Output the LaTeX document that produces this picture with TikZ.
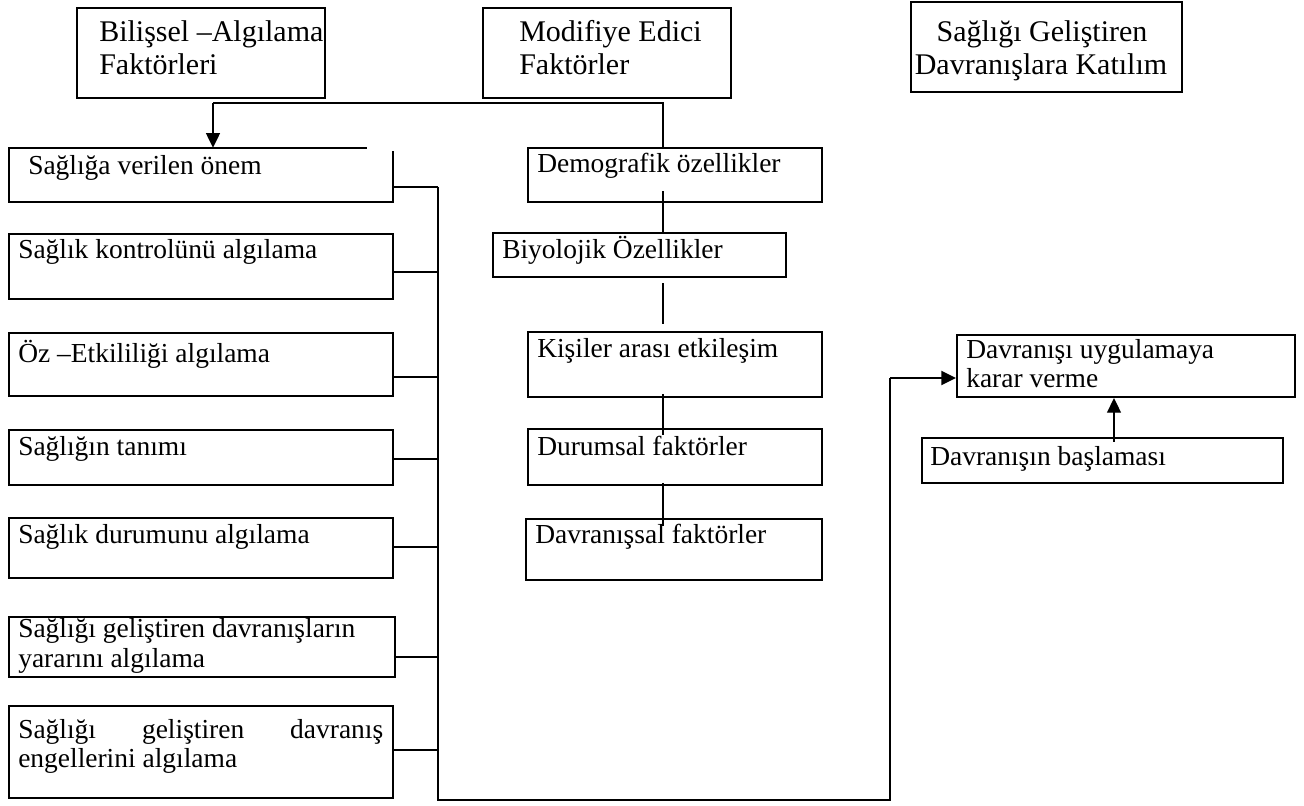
\documentclass[tikz,border=0pt]{standalone}
\usepackage{fontspec}
\setmainfont{Liberation Serif}
\usetikzlibrary{arrows.meta,fit,calc}
\begin{document}
\begin{tikzpicture}[x=0.75pt,y=-0.75pt,
  box/.style={draw, line width=1.6pt, inner sep=0pt},
  nobox/.style={inner sep=0pt},
  conn/.style={line width=1.1pt},
  tip/.style={-{Triangle[length=11pt,width=10.5pt]}},
  lbl/.style={anchor=base west, inner sep=0pt, font=\fontsize{20.6pt}{22.5pt}\selectfont},
  hdr/.style={anchor=base west, inner sep=0pt, font=\fontsize{22.5pt}{24.75pt}\selectfont},
]
\useasboundingbox[fill=white] (0,0) rectangle (1304,806);

% ---- header boxes
\node[box, fit={(77,8) (325,98)}] (ha) {};
\node[hdr] (ha1) at (99,42) {Bilişsel –Algılama};
\node[hdr] (ha2) at (99,75) {Faktörleri};
\node[box, fit={(483,8) (731,98)}] (hb) {};
\node[hdr] (hb1) at (519,42) {Modifiye Edici};
\node[hdr] (hb2) at (519,75) {Faktörler};
\node[box, fit={(911,2) (1182,92)}] (hc) {};
\node[hdr, anchor=base] (hc1) at (1042,42) {Sağlığı Geliştiren};
\node[hdr, anchor=base] (hc2) at (1041,75) {Davranışlara Katılım};

% ---- left column
\node[nobox, fit={(9,148) (393,202)}] (b1) {};
\draw[line width=1.6pt] ($(b1.north west)+(358,0)$) -- (b1.north west) -- (b1.south west) -- (b1.south east) -- ($(b1.north east)+(0,3)$);
\node[lbl] (t1) at (28,175) {Sağlığa verilen önem};
\node[box, fit={(9,234) (393,299)}] (b2) {};
\node[lbl] (t2) at (18,258) {Sağlık kontrolünü algılama};
\node[box, fit={(9,333) (393,396)}] (b3) {};
\node[lbl] (t3) at (18,362) {Öz –Etkililiği algılama};
\node[box, fit={(9,430) (393,485)}] (b4) {};
\node[lbl] (t4) at (18,455) {Sağlığın tanımı};
\node[box, fit={(9,518) (393,578)}] (b5) {};
\node[lbl] (t5) at (18,543) {Sağlık durumunu algılama};
\node[box, line width=1.2pt, fit={(9,617) (395,677)}] (b6) {};
\node[lbl] (t6a) at (18,637) {Sağlığı geliştiren davranışların};
\node[lbl] (t6b) at (18,667) {yararını algılama};
\node[box, fit={(9,706) (393,798)}] (b7) {};
\node[lbl] (t7a) at (18,738) {\makebox[273.75pt][s]{Sağlığı\hfill geliştiren\hfill davranış}};
\node[lbl] (t7b) at (18,767) {engellerini algılama};

% ---- middle column
\node[box, fit={(528,148) (822,202)}] (m1) {};
\node[lbl] (u1) at (537,173) {Demografik özellikler};
\node[box, fit={(493,233) (786,277)}] (m2) {};
\node[lbl] (u2) at (502,258) {Biyolojik Özellikler};
\node[box, fit={(528,332) (822,397)}] (m3) {};
\node[lbl] (u3) at (537,357) {Kişiler arası etkileşim};
\node[box, line width=1.2pt, fit={(528,429) (822,485)}] (m4) {};
\node[lbl] (u4) at (537,455) {Durumsal faktörler};
\node[box, fit={(526,519) (822,580)}] (m5) {};
\node[lbl] (u5) at (535,543) {Davranışsal faktörler};

% ---- right column
\node[box, fit={(957,335) (1295,397)}] (r1) {};
\node[lbl] (v1a) at (966,358) {Davranışı uygulamaya};
\node[lbl] (v1b) at (966,387) {karar verme};
\node[box, fit={(922,438) (1283,483)}] (r2) {};
\node[lbl] (v2) at (930,465) {Davranışın başlaması};

% ---- junction coordinates
\coordinate (j1) at (213,103);
\coordinate (j2) at (663,103);
\coordinate (s1) at (438,187);
\coordinate (s2) at (438,272);
\coordinate (s3) at (438,377);
\coordinate (s4) at (438,459);
\coordinate (s5) at (438,547);
\coordinate (s6) at (438,657);
\coordinate (s7) at (438,750);
\coordinate (bb) at (438,800);
\coordinate (rb) at (890,800);
\coordinate (ra) at (890,378);
\coordinate (ua) at (1114,443);

% ---- connectors
\draw[conn] ($(m1.north -| j2)$) -- (j2) -- (j1);
\draw[conn, tip] (j1) -- (b1.north -| j1);

\draw[conn] ($(m1.south -| j2)+(0,-12)$) -- (m2.north -| j2);
\draw[conn] ($(m2.south -| j2)+(0,5)$) -- ($(m3.north -| j2)+(0,-7)$);
\draw[conn] ($(m3.south -| j2)+(0,-4)$) -- ($(m4.north -| j2)+(0,7)$);
\draw[conn] ($(m4.south -| j2)+(0,-3)$) -- ($(m5.north -| j2)+(0,8)$);

\draw[conn] (b1.east |- s1) -- (s1);
\draw[conn] (b2.east |- s2) -- (s2);
\draw[conn] (b3.east |- s3) -- (s3);
\draw[conn] (b4.east |- s4) -- (s4);
\draw[conn] (b5.east |- s5) -- (s5);
\draw[conn] ($(b6.east |- s6)+(-2,0)$) -- (s6);
\draw[conn] (b7.east |- s7) -- (s7);
\draw[conn, line width=1.4pt] (s1) -- (bb) -- (rb) -- (ra);
\draw[conn, line width=1.4pt, tip] (ra) -- (r1.west |- ra);

\draw[conn, tip] ($(r2.north -| ua)+(0,5)$) -- (r1.south -| ua);
\end{tikzpicture}
\end{document}
